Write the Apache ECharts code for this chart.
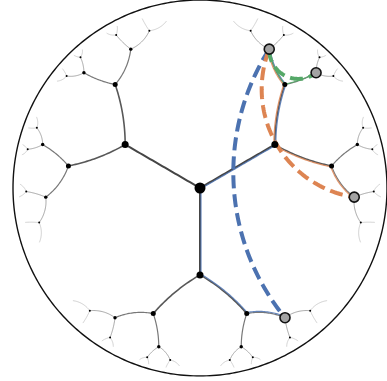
<!DOCTYPE html>
<html>
<head>
<meta charset="utf-8">
<script src="https://cdn.jsdelivr.net/npm/echarts@6/dist/echarts.min.js"></script>
<style>
  html, body { margin: 0; padding: 0; background: #fff; }
  #chart { width: 387px; height: 381px; }
</style>
</head>
<body>
<div id="chart"></div>
<script>
// Regular tree laid out in the Poincaré disk: three branches at the root,
// two new branches at every other node, 120° between all edges at a node.
const rootBranchDegrees = [30, 150, 270];
const childTurnDegrees = [60, -60];
const edgeLength = 1.0;          // hyperbolic length of every edge
const treeDepth = 5;

// Node ids are branch indices from the root joined with dots.
const sourceNode = '0.0.0';
const targetNodes = ['2.0.0', '0.1.1', '0.0.1'];
const pathColors = ['#4c72b0', '#dd8452', '#55a868'];

// Styling per depth (index = depth of the node / of the edge's child end).
const edgeWidths = [0, 2.0, 1.6, 1.2, 0.9, 0.7];
const edgeColors = ['#000', '#454545', '#585858', '#787878', '#9a9a9a', '#bcbcbc'];
const nodeSizes = [11, 7, 5, 3.4, 2, 0];
// bend of each dashed shortcut arc (central angle, degrees), bowing toward the root
const dashedArcDegrees = [72, 103, 129];

// ---- complex numbers and Möbius maps ----
const cx = (re, im) => ({ re, im });
const add = (a, b) => cx(a.re + b.re, a.im + b.im);
const sub = (a, b) => cx(a.re - b.re, a.im - b.im);
const mul = (a, b) => cx(a.re * b.re - a.im * b.im, a.re * b.im + a.im * b.re);
const div = (a, b) => {
  const d = b.re * b.re + b.im * b.im;
  return cx((a.re * b.re + a.im * b.im) / d, (a.im * b.re - a.re * b.im) / d);
};
const conj = a => cx(a.re, -a.im);
const scale = (a, s) => cx(a.re * s, a.im * s);
const ONE = cx(1, 0), ZERO = cx(0, 0);

// matrix [[a,b],[c,d]] acting as w -> (a w + b) / (c w + d)
const matMul = (m, n) => ({
  a: add(mul(m.a, n.a), mul(m.b, n.c)),
  b: add(mul(m.a, n.b), mul(m.b, n.d)),
  c: add(mul(m.c, n.a), mul(m.d, n.c)),
  d: add(mul(m.c, n.b), mul(m.d, n.d))
});
const rotation = deg => ({ a: cx(Math.cos(deg * Math.PI / 180), Math.sin(deg * Math.PI / 180)), b: ZERO, c: ZERO, d: ONE });
const stepT = Math.tanh(edgeLength / 2);
const translation = { a: ONE, b: cx(stepT, 0), c: cx(stepT, 0), d: ONE };
const originOf = m => div(m.b, m.d);

// ---- build the tree ----
const nodes = {};
const edges = [];
nodes[''] = { id: '', depth: 0, frame: { a: ONE, b: ZERO, c: ZERO, d: ONE } };
nodes[''].z = ZERO;
let frontier = [''];
for (let level = 1; level <= treeDepth; level++) {
  const next = [];
  frontier.forEach(pid => {
    const parent = nodes[pid];
    const turns = level === 1 ? rootBranchDegrees : childTurnDegrees;
    turns.forEach((deg, i) => {
      const id = pid === '' ? String(i) : pid + '.' + i;
      const frame = matMul(matMul(parent.frame, rotation(deg)), translation);
      nodes[id] = { id, depth: level, frame, parent: pid, z: originOf(frame) };
      edges.push([pid, id]);
      next.push(id);
    });
  });
  frontier = next;
}

// geodesic arc between two disk points, sampled
function geodesic(p, q, n) {
  const qq = div(sub(q, p), sub(ONE, mul(conj(p), q)));
  const pts = [];
  for (let i = 0; i <= n; i++) {
    const w = scale(qq, i / n);
    const z = div(add(w, p), add(ONE, mul(conj(p), w)));
    pts.push([z.re, z.im]);
  }
  return pts;
}

// circular arc from p to q with the given central angle, bowing toward the origin
function bentArc(p, q, degrees, n) {
  const phi = degrees * Math.PI / 180;
  const mx = (p.re + q.re) / 2, my = (p.im + q.im) / 2;
  const dx = q.re - p.re, dy = q.im - p.im;
  const half = Math.hypot(dx, dy) / 2;
  let nx = -dy / (2 * half), ny = dx / (2 * half);
  if (nx * -mx + ny * -my < 0) { nx = -nx; ny = -ny; }
  const R = half / Math.sin(phi / 2);
  const d = R * Math.cos(phi / 2);
  const ccx = mx - nx * d, ccy = my - ny * d;
  let a0 = Math.atan2(p.im - ccy, p.re - ccx);
  let a1 = Math.atan2(q.im - ccy, q.re - ccx);
  let da = a1 - a0;
  while (da > Math.PI) da -= 2 * Math.PI;
  while (da < -Math.PI) da += 2 * Math.PI;
  const pts = [];
  for (let i = 0; i <= n; i++) {
    const a = a0 + da * i / n;
    pts.push([ccx + R * Math.cos(a), ccy + R * Math.sin(a)]);
  }
  return pts;
}

// shift a polyline sideways by k (data units)
function offsetLine(pts, k) {
  return pts.map((p, i) => {
    const a = pts[Math.max(0, i - 1)], b = pts[Math.min(pts.length - 1, i + 1)];
    const tx = b[0] - a[0], ty = b[1] - a[1];
    const len = Math.hypot(tx, ty) || 1;
    return [p[0] - ty / len * k, p[1] + tx / len * k];
  });
}

// tree path between two node ids, as a list of ids
function ancestors(id) {
  const list = [id];
  while (id !== '') { id = nodes[id].parent; list.push(id); }
  return list;
}
function treePath(u, v) {
  const au = ancestors(u), av = ancestors(v);
  const common = au.find(x => av.includes(x));
  return au.slice(0, au.indexOf(common) + 1).concat(av.slice(0, av.indexOf(common)).reverse());
}

// ---- series ----
const boundary = [];
for (let i = 0; i <= 360; i++) {
  boundary.push([Math.cos(i * Math.PI / 180), Math.sin(i * Math.PI / 180)]);
}

const treeLines = edges.map(([p, c]) => ({
  coords: geodesic(nodes[p].z, nodes[c].z, 30),
  lineStyle: { width: edgeWidths[nodes[c].depth], color: edgeColors[nodes[c].depth], opacity: 1 }
}));

const pxUnit = 2 / 378;
const pathOffsets = [1.0, -1.0, 0.3];
const pathLines = [];
targetNodes.forEach((t, k) => {
  const ids = treePath(sourceNode, t);
  for (let i = 0; i < ids.length - 1; i++) {
    const seg = geodesic(nodes[ids[i]].z, nodes[ids[i + 1]].z, 30);
    pathLines.push({
      coords: offsetLine(seg, pathOffsets[k] * pxUnit),
      lineStyle: { width: 1.2, color: pathColors[k], opacity: 0.85 }
    });
  }
});

const dashedLines = targetNodes.map((t, k) => ({
  coords: bentArc(nodes[sourceNode].z, nodes[t].z, dashedArcDegrees[k], 80),
  lineStyle: { width: 4, color: pathColors[k], type: [13, 6], opacity: 1 }
}));

const nodePoints = Object.values(nodes)
  .filter(n => nodeSizes[n.depth] > 0)
  .map(n => ({ value: [n.z.re, n.z.im], symbolSize: nodeSizes[n.depth] }));

const endPoints = [sourceNode].concat(targetNodes).map(id => ({ value: [nodes[id].z.re, nodes[id].z.im] }));

const chart = echarts.init(document.getElementById('chart'), null, { renderer: 'canvas' });
chart.setOption({
  animation: false,
  backgroundColor: '#ffffff',
  grid: { left: 13, top: -2, width: 378, height: 378 },
  xAxis: { type: 'value', min: -1, max: 1, show: false },
  yAxis: { type: 'value', min: -1, max: 1, show: false },
  series: [
    {
      type: 'lines', coordinateSystem: 'cartesian2d', polyline: true, silent: true,
      data: [{ coords: boundary }],
      lineStyle: { color: '#111', width: 1.4, opacity: 1 }
    },
    {
      type: 'lines', coordinateSystem: 'cartesian2d', polyline: true, silent: true,
      data: treeLines
    },
    {
      type: 'lines', coordinateSystem: 'cartesian2d', polyline: true, silent: true,
      data: pathLines
    },
    {
      type: 'lines', coordinateSystem: 'cartesian2d', polyline: true, silent: true,
      data: dashedLines
    },
    {
      type: 'scatter', silent: true, symbol: 'circle',
      itemStyle: { color: '#000', opacity: 1 },
      data: nodePoints
    },
    {
      type: 'scatter', silent: true, symbol: 'circle', symbolSize: 10,
      itemStyle: { color: '#a3a3a3', borderColor: '#111', borderWidth: 1.6, opacity: 1 },
      data: endPoints
    }
  ]
});
</script>
</body>
</html>
